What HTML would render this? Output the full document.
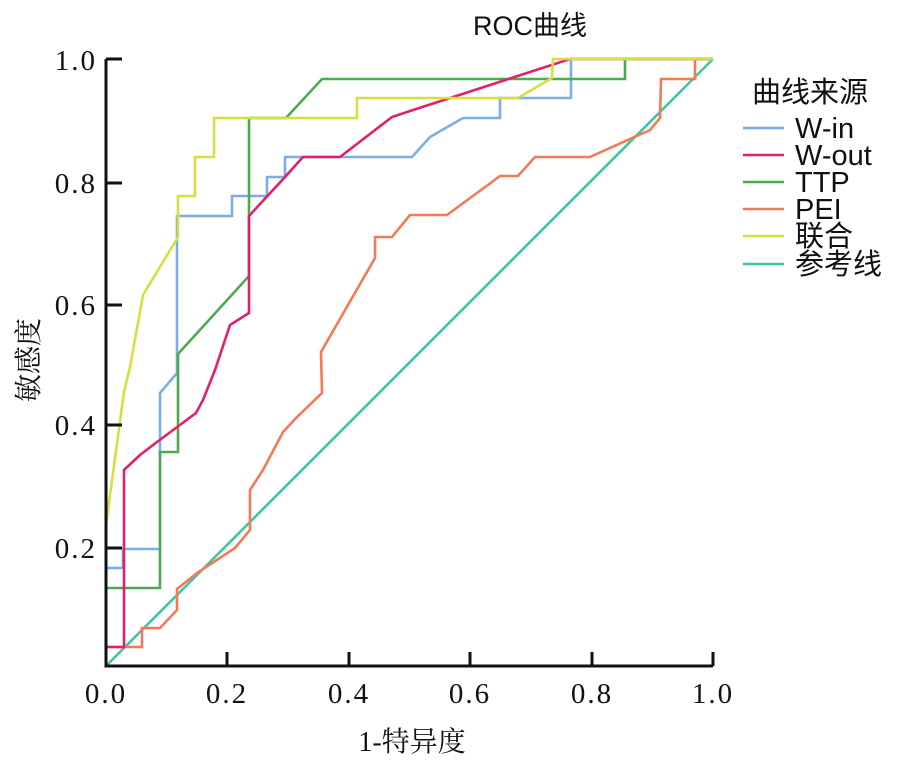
<!DOCTYPE html>
<html><head><meta charset="utf-8"><style>
html,body{margin:0;padding:0;background:#fff;}
svg{display:block}
</style></head><body>
<svg width="905" height="761" viewBox="0 0 905 761" xmlns="http://www.w3.org/2000/svg">
<rect width="905" height="761" fill="#fff"/>
<text x="530" y="35" text-anchor="middle" font-family="Liberation Sans, Noto Sans CJK SC, sans-serif" font-size="27" fill="#111">ROC曲线</text>
<g fill="none" stroke-width="2.6" stroke-linejoin="miter">
<polyline stroke="#3cc8a4" points="106,666 713,59"/>
<polyline stroke="#f47a55" points="106,647 142,647 142,628 160,628 177,610 177,589 197,573 235,548 250,530 250,490 263,470 283,432 297,417 322,393 321,352 375,258 375,237 392,237 410,215 447,215 500,176 518,176 535,157 590,157 650,130 660,118 661,79 695,79 695,59 713,59"/>
<polyline stroke="#7aaee8" points="106,568 123,568 123,549 160,549 160,393 177,373 177,216 232,216 232,196 267,196 267,177 285,177 285,157 412,157 430,137 463,118 500,118 500,98 571,98 571,59 713,59"/>
<polyline stroke="#4caa50" points="106,666 106,588 160,588 160,452 178,452 178,354 249,276 249,118 286,118 322,79 625,79 625,59 713,59"/>
<polyline stroke="#e0206a" points="106,647 124,647 124,470 140,455 157,442 196,413 203,400 215,370 230,325 249,313 249,216 285,177 303,157 340,157 392,117 410,111 570,59 713,59"/>
<polyline stroke="#d4e040" points="106,525 124,392 130,367 143,295 178,237 178,196 195,196 195,157 214,157 214,118 357,118 357,98 518,98 552,78 553,59 713,59"/>
</g>
<g stroke="#111" stroke-width="3" fill="none">
<polyline points="106,59 106,666 713,666"/>
<line x1="106" y1="59" x2="122" y2="59"/>
<line x1="106" y1="183" x2="122" y2="183"/>
<line x1="106" y1="305" x2="122" y2="305"/>
<line x1="106" y1="425" x2="122" y2="425"/>
<line x1="106" y1="548" x2="122" y2="548"/>
<line x1="227" y1="666" x2="227" y2="652"/>
<line x1="349" y1="666" x2="349" y2="652"/>
<line x1="470" y1="666" x2="470" y2="652"/>
<line x1="592" y1="666" x2="592" y2="652"/>
<line x1="713" y1="666" x2="713" y2="652"/>
</g>
<g font-family="Liberation Serif, serif" font-size="29" fill="#111" text-anchor="end" letter-spacing="2">
<text x="97" y="70">1.0</text>
<text x="97" y="193">0.8</text>
<text x="97" y="315">0.6</text>
<text x="97" y="435">0.4</text>
<text x="97" y="558">0.2</text>
</g>
<g font-family="Liberation Serif, serif" font-size="29" fill="#111" text-anchor="middle" letter-spacing="2">
<text x="106" y="703">0.0</text>
<text x="227" y="703">0.2</text>
<text x="349" y="703">0.4</text>
<text x="470" y="703">0.6</text>
<text x="592" y="703">0.8</text>
<text x="713" y="703">1.0</text>
</g>
<text x="412" y="751" text-anchor="middle" font-family="Liberation Serif, Noto Serif CJK SC, serif" font-size="28" fill="#111">1-特异度</text>
<text transform="translate(38,360) rotate(-90)" text-anchor="middle" font-family="Noto Serif CJK SC, serif" font-size="28" fill="#111">敏感度</text>
<g font-family="Liberation Sans, Noto Sans CJK SC, sans-serif" font-size="29" fill="#111">
<text x="752" y="102">曲线来源</text>
<text x="795" y="138">W-in</text>
<text x="795" y="165">W-out</text>
<text x="795" y="192">TTP</text>
<text x="795" y="219">PEI</text>
<text x="795" y="246">联合</text>
<text x="795" y="274">参考线</text>
</g>
<g stroke-width="2.6">
<line x1="743" y1="128" x2="784" y2="128" stroke="#7aaee8"/>
<line x1="743" y1="155" x2="784" y2="155" stroke="#e0206a"/>
<line x1="743" y1="182" x2="784" y2="182" stroke="#4caa50"/>
<line x1="743" y1="209" x2="784" y2="209" stroke="#f47a55"/>
<line x1="743" y1="236" x2="784" y2="236" stroke="#d4e040"/>
<line x1="743" y1="264" x2="784" y2="264" stroke="#3cc8a4"/>
</g>
</svg>
</body></html>
